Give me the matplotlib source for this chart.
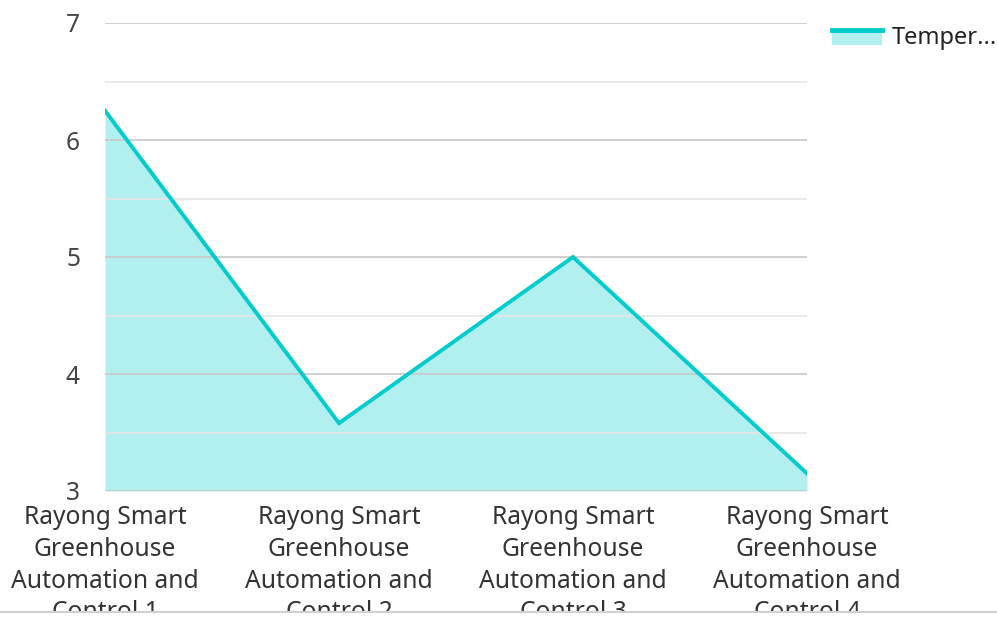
import numpy as np
import matplotlib.pyplot as plt
from matplotlib.patches import Rectangle
from matplotlib.lines import Line2D
from matplotlib.ticker import MultipleLocator
from matplotlib.legend_handler import HandlerBase

plt.rcParams['font.family'] = ['Noto Sans', 'DejaVu Sans']

categories = ["Rayong Smart\nGreenhouse\nAutomation and\nControl 1",
              "Rayong Smart\nGreenhouse\nAutomation and\nControl 2",
              "Rayong Smart\nGreenhouse\nAutomation and\nControl 3",
              "Rayong Smart\nGreenhouse\nAutomation and\nControl 4"]
temperature = [6.25, 3.58, 5.0, 3.15]
series_name = "Temper..."
yticks = [3, 4, 5, 6, 7]

line_col = '#00cccc'
fill_col = '#b2efef'
fs = 17.7

W, H = 997, 617
fig = plt.figure(figsize=(W / 100, H / 100), dpi=100)
ax = fig.add_axes([105 / W, 1 - 491 / H, (807 - 105) / W, (491 - 23) / H])

x = np.arange(len(categories))
ax.fill_between(x, temperature, 3, color=fill_col, lw=0, zorder=1)
ax.plot(x, temperature, color=line_col, lw=2.8, zorder=2, solid_joinstyle='miter')

ax.set_xlim(0, len(categories) - 1)
ax.set_ylim(3, 7)
ax.set_yticks(yticks)
ax.yaxis.set_minor_locator(MultipleLocator(0.5))
ax.grid(True, which='major', axis='y', color='#c8c8c8', lw=1.2)
ax.grid(True, which='minor', axis='y', color='#e6e6e6', lw=1.2)
ax.set_xticks(x)
ax.set_xticklabels(categories, fontsize=fs, color='#333333', linespacing=1.36)
ax.tick_params(axis='x', length=0, pad=10)
ax.tick_params(axis='y', which='both', length=0, pad=18, labelsize=fs, labelcolor='#444444')
for s in ax.spines.values():
    s.set_visible(False)


class FillLineHandler(HandlerBase):
    def create_artists(self, legend, orig_handle, xd, yd, w, h, fontsize, trans):
        r = Rectangle((xd, yd), w, h, color=fill_col, lw=0, transform=trans)
        l = Line2D([xd, xd + w], [yd + h, yd + h], color=line_col, lw=3.5, transform=trans)
        return [r, l]


fig.legend([(series_name,)], [series_name], handler_map={tuple: FillLineHandler()},
           loc='upper left', bbox_to_anchor=(832 / W, 1 - 26 / H), frameon=False,
           fontsize=17, handlelength=2.1, handleheight=0.6, handletextpad=0.45,
           labelcolor='#222222', borderaxespad=0, borderpad=0)

# clip bottom and separator line
fig.patches.append(Rectangle((0, 0), 1, 5 / H, transform=fig.transFigure,
                             color='white', zorder=10))
fig.lines.append(Line2D([0, 1], [5 / H, 5 / H], transform=fig.transFigure,
                        color='#d0d0d0', lw=1.5, zorder=11))

fig.savefig('out.png', dpi=100)
